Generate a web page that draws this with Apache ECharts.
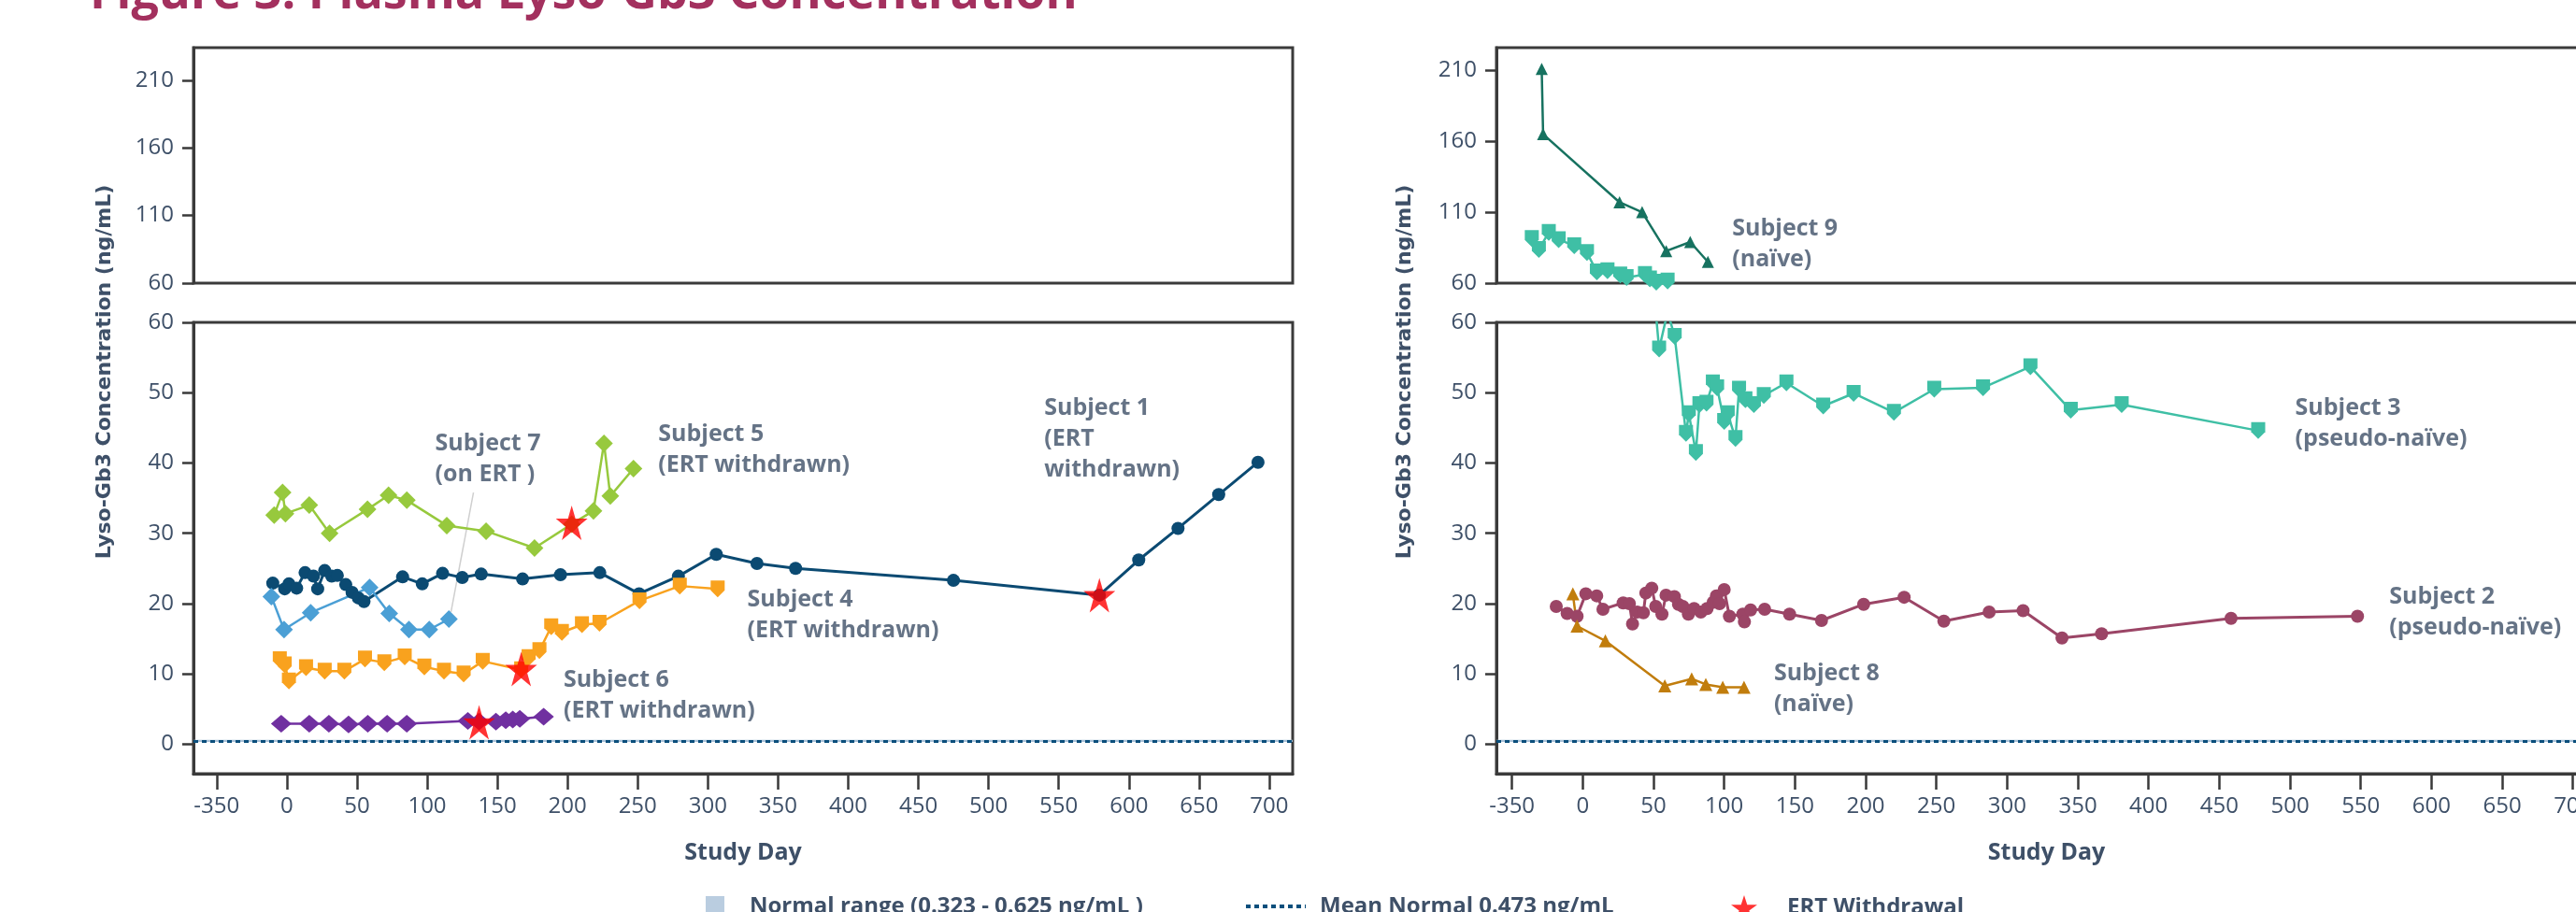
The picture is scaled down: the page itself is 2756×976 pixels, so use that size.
<!DOCTYPE html>
<html>
<head>
<meta charset="utf-8">
<script src="https://cdn.jsdelivr.net/npm/echarts@6/dist/echarts.min.js"></script>
<style>
  html, body { margin: 0; padding: 0; background: #fff; }
  #main { width: 2756px; height: 976px; }
</style>
</head>
<body>
<div id="main"></div>
<script>
// tick values on the (broken) day axis, -350 sits one step left of 0
var xTicks = [-50, 0, 50, 100, 150, 200, 250, 300, 350, 400, 450, 500, 550, 600, 650, 700];
var xTickLabels = ['-350', '0', '50', '100', '150', '200', '250', '300', '350', '400', '450', '500', '550', '600', '650', '700'];
var yTicksUpper = [60, 110, 160, 210];
var yTicksLower = [0, 10, 20, 30, 40, 50, 60];

var normalRange = [0.323, 0.625];
var meanNormal = 0.473;

// left panel
var subject1 = [[-10, 22.9], [-1.5, 22.1], [1.5, 22.8], [7, 22.2], [13, 24.4], [19, 23.9], [22, 22.1], [27, 24.7], [32, 23.9], [36, 24.0],
  [42, 22.7], [46.5, 21.6], [51, 20.8], [55, 20.3], [82.5, 23.8], [96.5, 22.8], [111, 24.3], [125, 23.7], [138.5, 24.2], [168, 23.5],
  [195, 24.1], [223, 24.4], [251, 21.4], [279, 23.9], [306, 27.0], [335, 25.7], [362.5, 25.0], [475, 23.3], [579, 21.2], [607, 26.2],
  [635, 30.7], [664, 35.5], [692, 40.1]];
var subject7 = [[-11, 21.0], [-2, 16.3], [17, 18.7], [59, 22.3], [73, 18.6], [87, 16.3], [101.5, 16.3], [115.5, 17.8]];
var subject7Leader = [[133, 35.8], [117, 18.8]];
var subject5 = [[-9, 32.6], [-3, 35.8], [-1, 32.8], [16, 34.0], [30.5, 30.0], [57.5, 33.4], [72.5, 35.4], [85.5, 34.7], [114, 31.1],
  [142, 30.3], [176.5, 27.9], [203, 31.3], [218.5, 33.2], [226, 42.8], [230.5, 35.3], [247, 39.2]];
var subject4 = [[-5, 12.0], [-1.5, 11.3], [1.5, 9.0], [13.7, 10.9], [27, 10.4], [41, 10.4], [55.7, 12.1], [69.5, 11.6], [84, 12.4],
  [98, 11.0], [112, 10.4], [126, 10.0], [139.6, 11.8], [167, 10.6], [172.3, 12.3], [180, 13.3], [188.4, 16.7], [196, 15.9],
  [210.3, 17.0], [222.8, 17.2], [251.3, 20.4], [280, 22.5], [307, 22.1]];
var subject6 = [[-4, 2.9], [16, 2.9], [30, 2.9], [44, 2.8], [57.7, 2.9], [71.5, 2.9], [85.5, 2.9], [129, 3.3], [137, 3.2],
  [149, 3.2], [156, 3.4], [161, 3.5], [166, 3.6], [183, 3.9]];
var ertWithdrawal = [[203, 31.5], [167, 10.7], [137, 3.1], [579, 21.2]];

// right panel
var subject9 = [[-29, 211], [-28, 165], [26, 117], [42, 110], [59, 82.6], [76, 89], [88.5, 75]];
var subject3 = [[-36, 91.4], [-31, 83.7], [-24, 95.8], [-17, 90.7], [-6, 86.4], [3, 81.5], [10, 67.9], [17.5, 68.8], [26.5, 65.7],
  [31, 64], [44, 66.1], [47.5, 62.9], [52, 60.7], [54, 56.2], [60, 61.5], [65, 58], [73, 44.2], [75, 47.0], [80, 41.5], [82.5, 48.3],
  [87.5, 48.5], [92, 51.4], [95, 50.7], [100, 45.9], [102.5, 47.0], [108, 43.5], [110.5, 50.5], [115, 49.0], [121, 48.3], [128, 49.6],
  [144, 51.4], [170, 48.1], [191.5, 49.9], [220, 47.2], [248.5, 50.5], [283, 50.7], [316.5, 53.7], [345, 47.5], [381, 48.3], [477.5, 44.6]];
var subject2 = [[-18.7, 19.6], [-11, 18.6], [-4, 18.2], [2.2, 21.4], [9.9, 21.1], [14.3, 19.2], [28.6, 20.1], [33, 20.0], [35.2, 17.1],
  [38.5, 18.8], [42.9, 18.7], [44.6, 21.5], [48.8, 22.2], [51.6, 19.6], [56, 18.5], [58.9, 21.2], [64.8, 21.0], [67.7, 19.9],
  [70.8, 19.6], [74.7, 18.5], [78.7, 19.3], [83.5, 18.8], [87.9, 19.3], [92.3, 20.2], [94.5, 21.1], [96.7, 20.0], [100, 22.0],
  [103.7, 18.2], [113.2, 18.5], [114.3, 17.4], [118.7, 19.1], [128.6, 19.2], [146.2, 18.5], [168.8, 17.6], [198.6, 19.9],
  [227.2, 20.9], [255.3, 17.5], [287.3, 18.8], [311.3, 19.0], [338.8, 15.1], [366.8, 15.7], [458.3, 17.9], [547.7, 18.2]];
var subject8 = [[-7, 21.4], [-4, 16.8], [16, 14.7], [58, 8.3], [77, 9.3], [87, 8.5], [99, 8.1], [114, 8.1]];

// annotation anchors (top-left of text) in data coords: [grid, day, value, text]
var notes = [
  [1, 106, 44.8, 'Subject 7\n(on ERT )'],
  [1, 265, 46.2, 'Subject 5\n(ERT withdrawn)'],
  [1, 540, 49.9, 'Subject 1\n(ERT\nwithdrawn)'],
  [1, 328.5, 22.6, 'Subject 4\n(ERT withdrawn)'],
  [1, 197.5, 11.3, 'Subject 6\n(ERT withdrawn)'],
  [2, 106, 108.5, 'Subject 9\n(naïve)'],
  [3, 504, 49.9, 'Subject 3\n(pseudo-naïve)'],
  [3, 570.5, 23.0, 'Subject 2\n(pseudo-naïve)'],
  [3, 135.5, 12.2, 'Subject 8\n(naïve)']
];

var NORMAL_NAME = 'Normal range (0.323 - 0.625 ng/mL )';
var MEAN_NAME = 'Mean Normal 0.473 ng/mL';
var ERT_NAME = 'ERT Withdrawal';

var TEXT = '#3e5068';
var AXIS = '#3a3a3a';
var MEAN_COLOR = '#0b4f7c';
var FONT = '"Open Sans", sans-serif';
var STAR = 'path://M50,0 L61.2,34.5 L97.6,34.5 L68.2,55.9 L79.4,90.5 L50,69.1 L20.6,90.5 L31.8,55.9 L2.4,34.5 L38.8,34.5 Z';
var SHIELD = 'path://M0,0 L10,0 L10,7 L5,12 L0,7 Z';
var DOTS = 'path://M0,0h5v4h-5z M9,0h5v4h-5z M18,0h5v4h-5z M27,0h5v4h-5z M36,0h5v4h-5z M45,0h5v4h-5z M54,0h5v4h-5z M63,0h1v4h-1z';

var chart = echarts.init(document.getElementById('main'));

function xAxisFor(gi, min, max, show) {
  return {
    type: 'value', gridIndex: gi, min: min, max: max,
    axisLine: { show: show, onZero: false, lineStyle: { color: AXIS, width: 3 } },
    axisTick: { show: show, customValues: xTicks, length: 17, lineStyle: { color: AXIS, width: 2.5 } },
    axisLabel: {
      show: show, customValues: xTicks, margin: 23, fontSize: 24, color: TEXT, fontFamily: FONT,
      formatter: function (v) {
        var i = xTicks.indexOf(v);
        return i >= 0 ? xTickLabels[i] : '';
      }
    },
    splitLine: { show: false },
    name: show ? 'Study Day' : '',
    nameLocation: 'middle', nameGap: 72,
    nameTextStyle: { fontSize: 25, fontWeight: 'bold', color: TEXT, fontFamily: FONT }
  };
}

function yAxisFor(gi, min, max, ticks) {
  return {
    type: 'value', gridIndex: gi, min: min, max: max,
    axisLine: { show: true, onZero: false, lineStyle: { color: AXIS, width: 3 } },
    axisTick: { show: true, customValues: ticks, length: 12, lineStyle: { color: AXIS, width: 2.5 } },
    axisLabel: { customValues: ticks, margin: 21, fontSize: 24, color: TEXT, fontFamily: FONT },
    splitLine: { show: false }
  };
}

function subjectLine(gi, data, color, symbol, size, width) {
  return {
    type: 'line', xAxisIndex: gi, yAxisIndex: gi, data: data,
    symbol: symbol, symbolSize: size, showAllSymbol: true,
    lineStyle: { color: color, width: width }, itemStyle: { color: color },
    z: 3, silent: true
  };
}

function refSeries(gi) {
  return [{
    name: NORMAL_NAME, type: 'scatter', xAxisIndex: gi, yAxisIndex: gi, data: [],
    symbol: 'rect', itemStyle: { color: '#a9c1d8' },
    markArea: { silent: true, itemStyle: { color: '#a9c1d8' }, data: [[{ yAxis: normalRange[0] }, { yAxis: normalRange[1] }]] }
  }, {
    name: MEAN_NAME, type: 'line', xAxisIndex: gi, yAxisIndex: gi, data: [], symbol: 'none',
    lineStyle: { color: MEAN_COLOR, width: 3, type: [5, 4] }, itemStyle: { color: MEAN_COLOR },
    markLine: {
      silent: true, symbol: 'none', label: { show: false },
      lineStyle: { color: MEAN_COLOR, width: 3, type: [5, 4] },
      data: [{ yAxis: meanNormal }]
    }
  }];
}

var series = [];
series = series.concat(refSeries(1), refSeries(3));
series.push({
  type: 'line', xAxisIndex: 1, yAxisIndex: 1, data: subject7Leader, symbol: 'none',
  lineStyle: { color: '#cfcfcf', width: 1.5 }, silent: true, z: 2
});
series.push(subjectLine(1, subject1, '#0b4a72', 'circle', 14, 3));
series.push(subjectLine(1, subject7, '#4b9fd5', 'diamond', 19, 2.5));
series.push(subjectLine(1, subject5, '#97c93d', 'diamond', 19, 2.5));
series.push(subjectLine(1, subject4, '#f9a21e', SHIELD, [15, 18], 2.5));
series.push(subjectLine(1, subject6, '#7030a0', 'diamond', [22, 19], 2.5));
series.push(subjectLine(2, subject9, '#177260', 'triangle', 13, 2.5));
series.push(subjectLine(2, subject3, '#3fbfa5', SHIELD, [15, 18], 2.5));
series.push(subjectLine(3, subject3, '#3fbfa5', SHIELD, [15, 18], 2.5));
series.push(subjectLine(3, subject2, '#9b4566', 'circle', 14, 3));
series.push(subjectLine(3, subject8, '#c17d0d', 'triangle', 14, 2.5));
series.push({
  name: ERT_NAME, type: 'scatter', xAxisIndex: 1, yAxisIndex: 1, data: ertWithdrawal,
  symbol: STAR, symbolSize: [34, 37], itemStyle: { color: '#ff0000' }, z: 10, silent: true
});

// annotation texts
[1, 2, 3].forEach(function (gi) {
  var pts = notes.filter(function (n) { return n[0] === gi; }).map(function (n) {
    return { value: [n[1], n[2]], label: { formatter: n[3] } };
  });
  series.push({
    type: 'scatter', xAxisIndex: gi, yAxisIndex: gi, data: pts, symbolSize: 1,
    itemStyle: { color: 'rgba(0,0,0,0)' }, silent: true, z: 5,
    label: {
      show: true, position: [0, 0], align: 'left', verticalAlign: 'top',
      fontSize: 25, fontWeight: 'bold', lineHeight: 33, color: TEXT, fontFamily: FONT
    }
  });
});

// three single-item legends along the bottom edge
function legendAt(left, item, w, h, gap) {
  return {
    left: left, top: 958, padding: 0, itemWidth: w, itemHeight: h,
    data: [item], selectedMode: false,
    textStyle: { fontSize: 24, fontWeight: 'bold', color: TEXT, fontFamily: FONT, padding: [0, 0, 0, gap] }
  };
}

function gridAt(left, top, width, height) {
  return {
    left: left, top: top, width: width, height: height, outerBoundsMode: 'none',
    show: true, borderColor: AXIS, borderWidth: 3
  };
}

var option = {
  animation: false,
  backgroundColor: '#fff',
  graphic: [
    {
      type: 'text', x: 96, y: -6,
      style: { text: 'Figure 3: Plasma Lyso-Gb3 Concentration', font: 'bold 52px "Open Sans"', fill: '#a3305e', verticalAlign: 'middle' }
    },
    {
      type: 'text', x: 112, y: 398, rotation: Math.PI / 2,
      style: { text: 'Lyso-Gb3 Concentration (ng/mL)', font: 'bold 22px "DejaVu Sans"', fill: TEXT, align: 'center', verticalAlign: 'middle' }
    },
    {
      type: 'text', x: 1503, y: 398, rotation: Math.PI / 2,
      style: { text: 'Lyso-Gb3 Concentration (ng/mL)', font: 'bold 22px "DejaVu Sans"', fill: TEXT, align: 'center', verticalAlign: 'middle' }
    }
  ],
  legend: [
    legendAt(755, { name: NORMAL_NAME, icon: 'rect' }, 20, 22, 22),
    legendAt(1333, { name: MEAN_NAME, icon: DOTS, itemStyle: { color: MEAN_COLOR, borderWidth: 0 } }, 64, 4, 10),
    legendAt(1852, ERT_NAME, 28, 30, 27)
  ],
  grid: [
    gridAt(207, 51, 1176, 252),
    gridAt(207, 345, 1176, 483),
    gridAt(1601, 51, 1177, 252),
    gridAt(1601, 345, 1177, 483)
  ],
  xAxis: [
    xAxisFor(0, -66.5, 716.7, false),
    xAxisFor(1, -66.5, 716.7, true),
    xAxisFor(2, -61, 716.7, false),
    xAxisFor(3, -61, 716.7, true)
  ],
  yAxis: [
    yAxisFor(0, 60, 234, yTicksUpper),
    yAxisFor(1, -4.2, 60, yTicksLower),
    yAxisFor(2, 60, 226, yTicksUpper),
    yAxisFor(3, -4.2, 60, yTicksLower)
  ],
  series: series
};

chart.setOption(option);
</script>
</body>
</html>
